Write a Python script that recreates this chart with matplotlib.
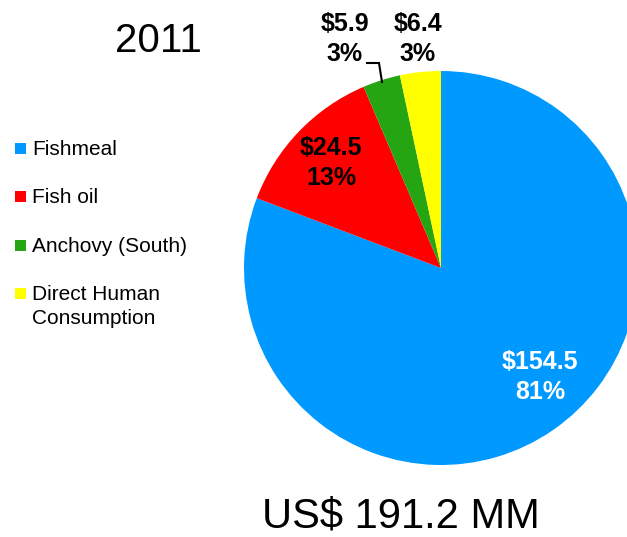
import matplotlib.pyplot as plt
from matplotlib.patches import Rectangle

plt.rcParams['font.family'] = ['Liberation Sans', 'DejaVu Sans']

# data
categories = ['Fishmeal', 'Fish oil', 'Anchovy (South)', 'Direct Human\nConsumption']
values = [154.5, 24.5, 5.9, 6.4]
pct_labels = ['81%', '13%', '3%', '3%']
colors = ['#0099FF', '#FF0000', '#25A512', '#FFFF00']
total_label = 'US$ 191.2 MM'
year = '2011'

W, H = 627, 537
fig = plt.figure(figsize=(W / 100, H / 100), dpi=100)
ax = fig.add_axes([0, 0, 1, 1])

# pie in pixel units (y measured from bottom)
cx, cy, r = 441, H - 268, 197
wedges, _ = ax.pie(values, colors=colors, startangle=90, counterclock=False,
                   center=(cx, cy), radius=r, wedgeprops=dict(linewidth=0))
ax.set_xlim(0, W)
ax.set_ylim(0, H)
ax.set_aspect('equal')
ax.axis('off')

# value labels (pixel positions of label centres)
label_pos = [(540, 377), (331, 163), (345, 39), (418, 39)]
label_col = ['white', 'black', 'black', 'black']
for v, p, pos, c in zip(values, pct_labels, label_pos, label_col):
    ax.text(pos[0], H - pos[1], '$%.1f\n%s' % (v, p), ha='center', va='center',
            fontsize=18, fontweight='bold', color=c, linespacing=1.3)

# leader line for the small green slice
ax.plot([382, 379, 367], [H - 82, H - 63, H - 63], color='black', lw=1.5,
        solid_joinstyle='miter')

# legend
leg_y = [148, 196, 245, 293]
for name, c, y in zip(categories, colors, leg_y):
    ax.add_patch(Rectangle((15, H - y - 5.5), 11, 11, color=c, lw=0))
    ax.text(32, H - y + 8, name, ha='left', va='top', fontsize=15,
            linespacing=1.35)

ax.text(158, H - 41, year, ha='center', va='center', fontsize=29)
ax.text(401, H - 516, total_label, ha='center', va='center', fontsize=30)

fig.savefig('out.png', dpi=100)
